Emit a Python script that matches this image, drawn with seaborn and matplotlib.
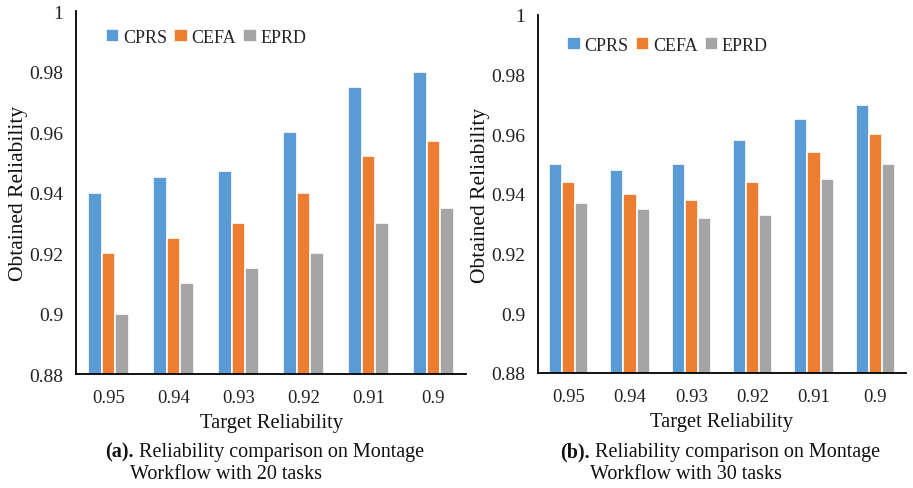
import pandas as pd
import matplotlib
matplotlib.use("Agg")
import matplotlib.pyplot as plt
import seaborn as sns
from matplotlib.ticker import FuncFormatter

# ==========================================================
# Data
# ==========================================================

targets = ["0.95", "0.94", "0.93", "0.92", "0.91", "0.9"]
methods = ["CPRS", "CEFA", "EPRD"]

cprs_20 = [0.940, 0.945, 0.947, 0.960, 0.975, 0.980]
cefa_20 = [0.920, 0.925, 0.930, 0.940, 0.952, 0.957]
eprd_20 = [0.900, 0.910, 0.915, 0.920, 0.930, 0.935]

cprs_30 = [0.950, 0.948, 0.950, 0.958, 0.965, 0.970]
cefa_30 = [0.944, 0.940, 0.938, 0.944, 0.954, 0.960]
eprd_30 = [0.937, 0.935, 0.932, 0.933, 0.945, 0.950]

yticks = [0.88, 0.90, 0.92, 0.94, 0.96, 0.98, 1.0]
colors = ["#5B9BD5", "#ED7D31", "#A5A5A5"]


def long_form(series):
    rows = []
    for m, vals in zip(methods, series):
        for t, v in zip(targets, vals):
            rows.append({"Target": t, "Method": m, "Value": v})
    return pd.DataFrame(rows)


sns.set_theme(style="white")
plt.rcParams["font.family"] = ["Liberation Serif", "DejaVu Serif"]

W, H = 913, 489
fig = plt.figure(figsize=(W / 100, H / 100), dpi=100)

ax_a = fig.add_axes([76 / W, 1 - 375 / H, 390 / W, 363 / H])
ax_b = fig.add_axes([538 / W, 1 - 374 / H, 368 / W, 358 / H])

# axis, data, tag, tasks, caption line1 x, caption line2 x, legend anchor
panels = [
    (ax_a, [cprs_20, cefa_20, eprd_20], "(a).", "20", 105, 130, (0.035, 0.995)),
    (ax_b, [cprs_30, cefa_30, eprd_30], "(b).", "30", 560, 590, (0.035, 0.985)),
]

for ax, series, tag, ntasks, x1, x2, anchor in panels:
    df = long_form(series)
    sns.barplot(
        data=df, x="Target", y="Value", hue="Method",
        order=targets, hue_order=methods, palette=colors,
        width=0.64, edgecolor="white", linewidth=1.2,
        saturation=1, ax=ax
    )
    ax.set_ylim(0.88, 1.0)
    ax.set_yticks(yticks)
    ax.yaxis.set_major_formatter(FuncFormatter(lambda v, p: "%g" % round(v, 2)))
    ax.tick_params(axis="both", length=0, colors="#222222")
    ax.tick_params(axis="x", pad=11, labelsize=13.5)
    ax.tick_params(axis="y", pad=9, labelsize=14)
    for s in ["top", "right"]:
        ax.spines[s].set_visible(False)
    for s in ["left", "bottom"]:
        ax.spines[s].set_color("black")
        ax.spines[s].set_linewidth(1.3)
    ax.set_xlabel("Target Reliability", fontsize=14.8, labelpad=5, color="#111111")
    ax.set_ylabel("Obtained Reliability", fontsize=15.5, labelpad=1, color="#111111")

    handles, labels = ax.get_legend_handles_labels()
    ax.legend(
        handles, labels, loc="upper left", bbox_to_anchor=anchor,
        ncol=3, frameon=False, fontsize=13, handlelength=0.75,
        handleheight=0.75, handletextpad=0.2, columnspacing=0.4
    )

    # caption under each panel
    t = fig.text(x1 / W, 1 - 452 / H, tag, fontsize=14.5, fontweight="bold",
                 ha="left", va="center", color="#111111")
    ax.annotate(" Reliability comparison on Montage", xy=(1, 0), xycoords=t,
                fontsize=14.5, ha="left", va="bottom", color="#111111")
    fig.text(x2 / W, 1 - 475 / H, "Workflow with %s tasks" % ntasks,
             fontsize=14.5, ha="left", va="center", color="#111111")

fig.savefig("out.png", dpi=100)
